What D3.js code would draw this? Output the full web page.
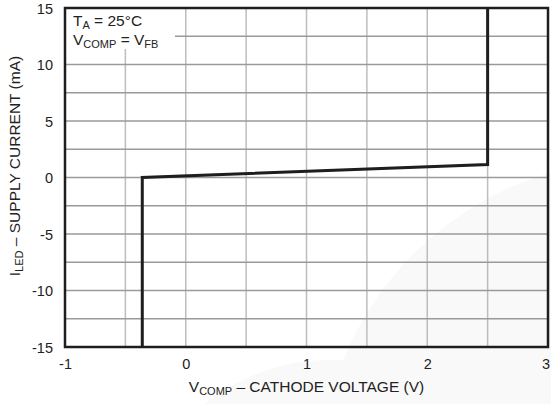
<!DOCTYPE html>
<meta charset="utf-8">
<style>
  body { margin: 0; background: #fff; }
  text { font-family: "Liberation Sans", Arial, sans-serif; fill: #222; }
</style>
<svg width="551" height="404"></svg>
<script src="https://cdn.jsdelivr.net/npm/d3@7"></script>
<script>

var voltage = [-0.36, -0.36, 2.5, 2.5];
var current = [-15, 0, 1.15, 15];
var xTicks = [-1, 0, 1, 2, 3];
var yTicks = [-15, -10, -5, 0, 5, 10, 15];

var svg = d3.select("svg");

var margin = {left: 65, right: 3, top: 8, bottom: 57},
    width = 551 - margin.left - margin.right,
    height = 404 - margin.top - margin.bottom;

var x = d3.scaleLinear().domain([-1, 3]).range([margin.left, margin.left + width]);
var y = d3.scaleLinear().domain([-15, 15]).range([margin.top + height, margin.top]);

// very faint watermark shapes
svg.append("circle")
    .attr("cx", 640).attr("cy", 480).attr("r", 320)
    .attr("fill", "#faf9fa");
svg.append("circle")
    .attr("cx", 330).attr("cy", 560).attr("r", 200)
    .attr("fill", "#faf9fa");

// grid
svg.append("g").selectAll("line")
    .data(d3.range(-0.5, 3, 0.5))
  .enter().append("line")
    .attr("x1", d => x(d)).attr("x2", d => x(d))
    .attr("y1", y(15)).attr("y2", y(-15))
    .attr("stroke", "#bdbdbd").attr("stroke-width", 1.5);

svg.append("g").selectAll("line")
    .data(d3.range(-12.5, 15, 2.5))
  .enter().append("line")
    .attr("x1", x(-1)).attr("x2", x(3))
    .attr("y1", d => y(d)).attr("y2", d => y(d))
    .attr("stroke", "#9a9a9a").attr("stroke-width", 1.5);

// label box
svg.append("rect")
    .attr("x", x(-1) + 1).attr("y", y(15) + 1)
    .attr("width", 109).attr("height", 40)
    .attr("fill", "#fff");

// curve
var line = d3.line()
    .x((d, i) => x(voltage[i]))
    .y(d => y(d));

svg.append("path")
    .datum(current)
    .attr("d", line)
    .attr("fill", "none")
    .attr("stroke", "#1e1e1e")
    .attr("stroke-width", 3)
    .attr("stroke-linejoin", "miter");

// frame
svg.append("rect")
    .attr("x", x(-1)).attr("y", y(15))
    .attr("width", width).attr("height", height)
    .attr("fill", "none")
    .attr("stroke", "#1e1e1e")
    .attr("stroke-width", 2.5);

// axes
var fmt = d => String(d);
var xAxis = svg.append("g")
    .attr("transform", "translate(0," + (y(-15) + 12) + ")")
    .call(d3.axisBottom(x).tickValues(xTicks).tickFormat(fmt).tickSize(0).tickPadding(0));
var yAxis = svg.append("g")
    .attr("transform", "translate(" + (x(-1) - 12) + ",0)")
    .call(d3.axisLeft(y).tickValues(yTicks).tickFormat(fmt).tickSize(0).tickPadding(0));

[xAxis, yAxis].forEach(function(a) {
  a.select(".domain").remove();
  a.selectAll("text")
      .attr("font-family", "Liberation Sans, Arial, sans-serif")
      .attr("font-size", 14.5)
      .attr("fill", "#222");
});
xAxis.selectAll("text").attr("dy", "0.71em");
xAxis.selectAll("text").filter(d => d === 3).attr("text-anchor", "end").attr("dx", "0.1em");
yAxis.selectAll("text").attr("dy", "0.35em");

// annotation
var ann = svg.append("text").attr("x", 73).attr("y", 26).attr("font-size", 15.5);
ann.append("tspan").text("T");
ann.append("tspan").attr("font-size", 11).attr("dy", 3).text("A");
ann.append("tspan").attr("dy", -3).text(" = 25°C");

var ann2 = svg.append("text").attr("x", 73).attr("y", 45).attr("font-size", 15.5);
ann2.append("tspan").text("V");
ann2.append("tspan").attr("font-size", 11).attr("dy", 3).text("COMP");
ann2.append("tspan").attr("dy", -3).text(" = V");
ann2.append("tspan").attr("font-size", 11).attr("dy", 3).text("FB");

// axis titles
var xt = svg.append("text")
    .attr("x", x(1)).attr("y", 392)
    .attr("text-anchor", "middle").attr("font-size", 15.5);
xt.append("tspan").text("V");
xt.append("tspan").attr("font-size", 11).attr("dy", 3).text("COMP");
xt.append("tspan").attr("dy", -3).text(" – CATHODE VOLTAGE (V)");

var yt = svg.append("text")
    .attr("transform", "translate(20," + 166 + ") rotate(-90)")
    .attr("text-anchor", "middle").attr("font-size", 15.5);
yt.append("tspan").text("I");
yt.append("tspan").attr("font-size", 11).attr("dy", 3).text("LED");
yt.append("tspan").attr("dy", -3).text(" – SUPPLY CURRENT (mA)");

</script>
